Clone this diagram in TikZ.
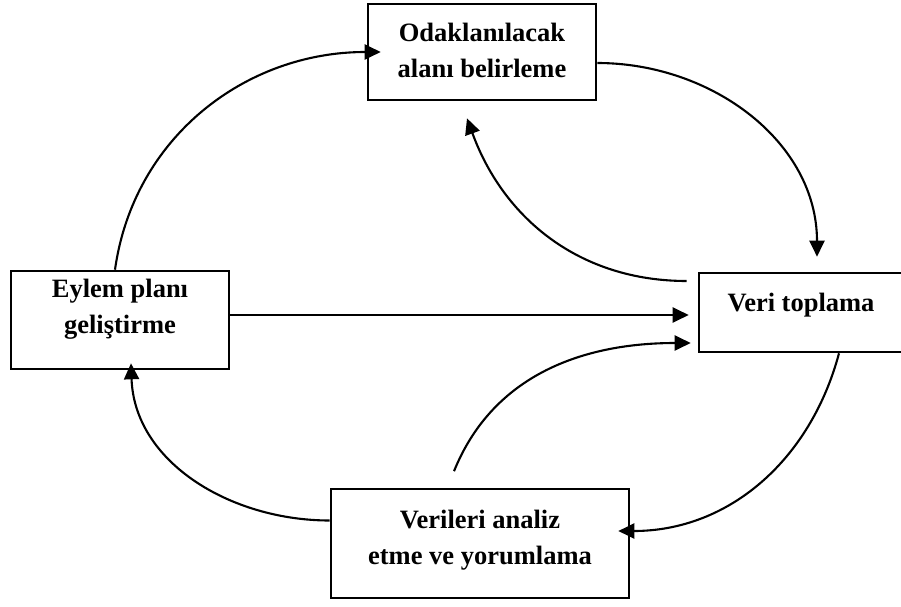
\documentclass[tikz,border=0pt]{standalone}
\usepackage{fontspec}
\setmainfont{Liberation Serif}
\usetikzlibrary{arrows.meta, positioning}
\tikzset{>={Triangle[length=16pt,width=15pt]}}

\begin{document}
\begin{tikzpicture}[x=1pt, y=1pt,
		kutu/.style={draw, line width=2.6pt, inner sep=0pt},
		yazi/.style={align=center, inner sep=0pt, font=\bfseries\fontsize{26.5}{36}\selectfont},
		ok/.style={->, line width=2.1pt}]
		\useasboundingbox (0,0) rectangle (901,606);

		\node[kutu, minimum width=228pt, minimum height=96pt] (odak) at (482,554) {};
		\node[kutu, minimum width=218pt, minimum height=98pt] (eylem) at (120,286) {};
		\node[kutu, minimum width=204pt, minimum height=79pt] (veri) at (801,293.5) {};
		\node[kutu, minimum width=298pt, minimum height=109pt] (analiz) at (480,62.5) {};

		\node[yazi] (odakyazi) at ([yshift=2pt]odak.center) {Odaklanılacak\\alanı belirleme};
		\node[yazi] (eylemyazi) at ([yshift=11pt]eylem.center) {Eylem planı\\geliştirme};
		\node[yazi] (veriyazi) at ([yshift=7pt]veri.center) {Veri toplama};
		\node[yazi] (analizyazi) at ([yshift=3pt]analiz.center) {Verileri analiz\\etme ve yorumlama};

		\draw[ok] ([xshift=-5pt]eylem.north) to [out=82, in=180] ([xshift=14pt]odak.west);
		\draw[ok] ([yshift=-11pt]odak.east) to [out=0, in=90] ([xshift=16pt, yshift=15pt]veri.north);
		\draw[ok] ([xshift=-11pt, yshift=31.5pt]veri.west) to [out=180, in=-70] ([xshift=-15pt, yshift=-17pt]odak.south);
		\draw[ok] ([xshift=38pt]veri.south) to [out=-105, in=0] ([xshift=-12pt, yshift=12.5pt]analiz.east);
		\draw[ok] ([xshift=-26pt, yshift=16.5pt]analiz.north) to [out=68, in=180] ([xshift=-7pt, yshift=-30.5pt]veri.west);
		\draw[ok] ([yshift=23pt]analiz.west) to [out=180, in=-88] ([xshift=11pt, yshift=7pt]eylem.south);
		\draw[ok] ([yshift=5pt]eylem.east) -- ([xshift=-9pt, yshift=-2.5pt]veri.west);
\end{tikzpicture}
\end{document}
